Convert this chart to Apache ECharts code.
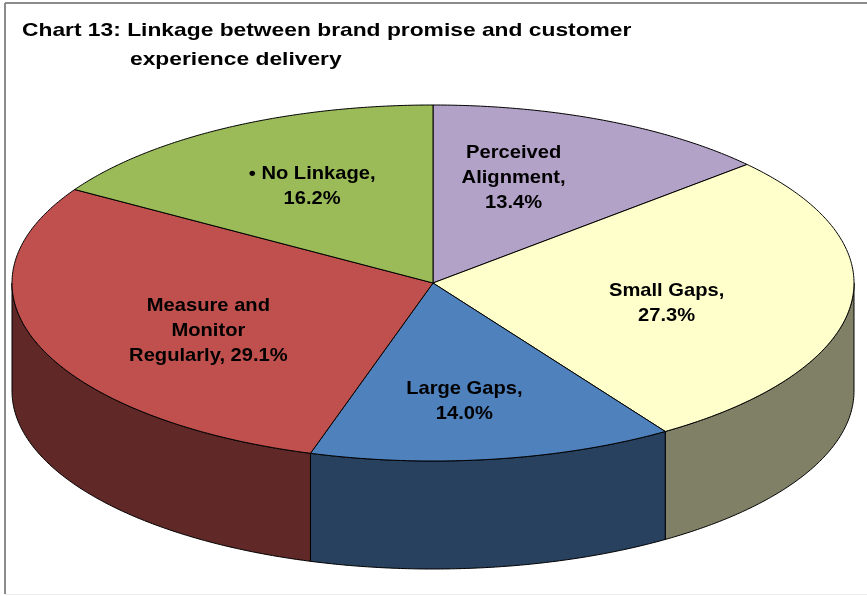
<!DOCTYPE html>
<html>
<head>
<meta charset="utf-8">
<script src="https://cdn.jsdelivr.net/npm/echarts@6/dist/echarts.min.js"></script>
<style>
  html, body { margin: 0; padding: 0; background: #fff; }
  #chart { width: 867px; height: 596px; }
</style>
</head>
<body>
<div id="chart"></div>
<script>
// Slices, clockwise from 12 o'clock
const categories = ['Perceived\nAlignment', 'Small Gaps', 'Large Gaps', 'Measure and\nMonitor\nRegularly', '\u2022 No Linkage'];
const shares = [13.4, 27.3, 14.0, 29.1, 16.2];
const valueOnNewLine = [true, true, true, false, true];
const sliceColors = ['#B3A2C7', '#FFFFCC', '#4F81BD', '#C0504D', '#9BBB59'];

// Layout of the tilted pie (ellipse of the top face + slab thickness)
const PIE = { cx: 433, cy: 283, rx: 421, ry: 178, depth: 108 };
const LABEL_R = { kx: 0.55, ky: 0.62, dy: 5 };
const labelNudge = [[-14, -10], [4, 1], [-2, 4], [-8, 4], [-8, -5]];
const FONT = 'bold 19px "Liberation Sans", Arial, sans-serif';

const total = shares.reduce((a, b) => a + b, 0);
let acc = 0;
const sliceData = shares.map((v, i) => {
  const start = acc / total;
  acc += v;
  return [v, start, acc / total, i];
});

// point on the rim, angle measured clockwise from the top
function rim(deg, dy) {
  const r = deg * Math.PI / 180;
  return [PIE.cx + PIE.rx * Math.sin(r), PIE.cy - PIE.ry * Math.cos(r) + (dy || 0)];
}
function arc(a, b, dy) {
  const pts = [];
  const n = Math.max(2, Math.ceil(Math.abs(b - a) / 0.5));
  for (let k = 0; k <= n; k++) pts.push(rim(a + (b - a) * k / n, dy));
  return pts;
}
function shade(hex, f) {
  const n = parseInt(hex.slice(1), 16);
  const r = Math.round(((n >> 16) & 255) * f);
  const g = Math.round(((n >> 8) & 255) * f);
  const b = Math.round((n & 255) * f);
  return 'rgb(' + r + ',' + g + ',' + b + ')';
}

// outer wall of each slice (only the front half is visible)
function renderSide(params, api) {
  const i = api.value(3);
  const t0 = api.value(1) * 360, t1 = api.value(2) * 360;
  const a = Math.max(t0, 90), b = Math.min(t1, 270);
  if (b <= a) return { type: 'group', children: [] };
  const pts = arc(a, b, 0).concat(arc(b, a, PIE.depth));
  return {
    type: 'polygon',
    shape: { points: pts },
    style: { fill: shade(sliceColors[i], 0.5), stroke: '#000', lineWidth: 1 }
  };
}

// top face of each slice with its data label
function renderTop(params, api) {
  const i = api.value(3);
  const v = api.value(0);
  const t0 = api.value(1) * 360, t1 = api.value(2) * 360;
  const pts = [[PIE.cx, PIE.cy]].concat(arc(t0, t1, 0));
  const mid = (t0 + t1) / 2 * Math.PI / 180;
  const lx = PIE.cx + LABEL_R.kx * PIE.rx * Math.sin(mid) + labelNudge[i][0];
  const ly = PIE.cy + LABEL_R.dy - LABEL_R.ky * PIE.ry * Math.cos(mid) + labelNudge[i][1];
  const text = categories[i] + ',' + (valueOnNewLine[i] ? '\n' : ' ') + v.toFixed(1) + '%';
  return {
    type: 'group',
    children: [
      {
        type: 'polygon',
        shape: { points: pts },
        style: { fill: sliceColors[i], stroke: '#000', lineWidth: 1 }
      },
      {
        type: 'text',
        x: lx, y: ly, scaleX: 1.06, z2: 10,
        style: { text: text, fill: '#000', font: FONT, align: 'center', verticalAlign: 'middle', lineHeight: 25 }
      }
    ]
  };
}

const chart = echarts.init(document.getElementById('chart'), null, { renderer: 'canvas' });
chart.setOption({
  animation: false,
  backgroundColor: '#fff',
  graphic: [
    { type: 'line', shape: { x1: 5, y1: 3, x2: 867, y2: 3 }, style: { stroke: '#8c8c8c', lineWidth: 2 } },
    { type: 'line', shape: { x1: 5, y1: 3, x2: 5, y2: 594 }, style: { stroke: '#8c8c8c', lineWidth: 2 } },
    { type: 'line', shape: { x1: 5, y1: 594.5, x2: 867, y2: 594.5 }, style: { stroke: '#ececec', lineWidth: 1 } },
    { type: 'text', x: 22, y: 31, scaleX: 1.2,
      style: { text: 'Chart 13: Linkage between brand promise and customer', font: FONT, fill: '#000', verticalAlign: 'middle' } },
    { type: 'text', x: 130, y: 60, scaleX: 1.2,
      style: { text: 'experience delivery', font: FONT, fill: '#000', verticalAlign: 'middle' } }
  ],
  series: [
    { type: 'custom', coordinateSystem: 'none', silent: true, z: 1, data: sliceData, renderItem: renderSide },
    { type: 'custom', coordinateSystem: 'none', silent: true, z: 2, data: sliceData, renderItem: renderTop }
  ]
});
</script>
</body>
</html>
